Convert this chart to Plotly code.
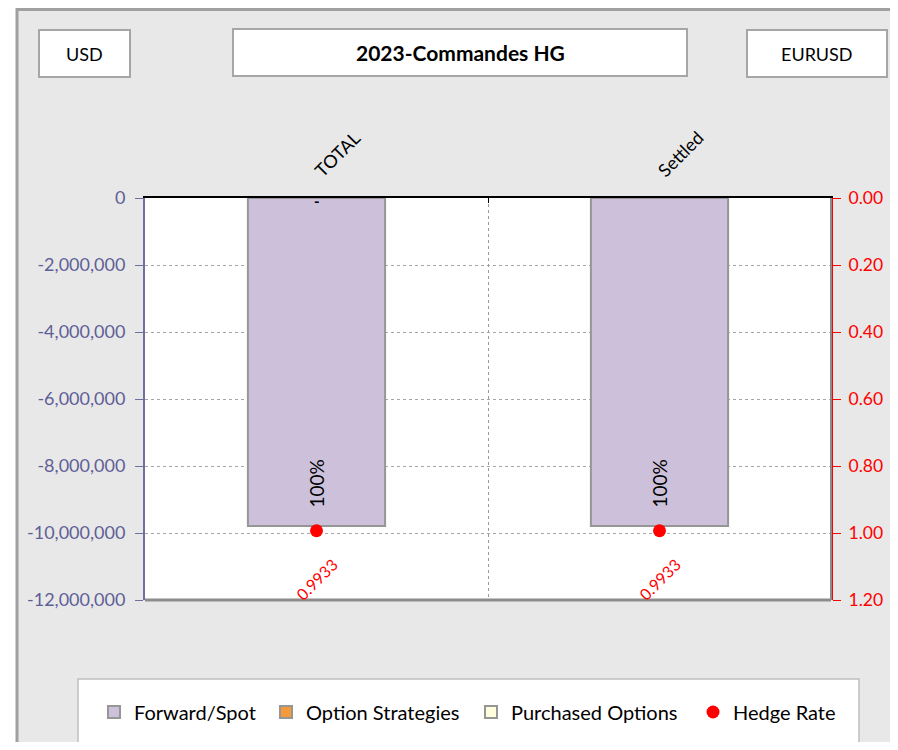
import plotly.graph_objects as go

# chart data
categories = ["TOTAL", "Settled"]
forward_spot = [-9790000, -9790000]
option_strategies = [0, 0]
purchased_options = [0, 0]
hedge_rate = [0.9933, 0.9933]
cover_pct = ["100%", "100%"]

amount_ticks = [0, -2000000, -4000000, -6000000, -8000000, -10000000, -12000000]
amount_labels = ["0", "-2,000,000", "-4,000,000", "-6,000,000", "-8,000,000",
                 "-10,000,000", "-12,000,000"]

currency = "USD"
title = "2023-Commandes HG"
pair = "EURUSD"

# page body keeps its default 8px margin, so the figure is placed at (8, 8)
OFF = 8
W, H = 898 - 2 * OFF, 750 - 2 * OFF
L, R, T, B = 145, 831, 198, 600  # plot area, in page pixels
FONT = "Lato, sans-serif"


def px(x):
    return (x - L) / (R - L)


def py(y):
    return (B - y) / (B - T)


# one legend per entry so the spacing matches the original
legend_x = [123, 295, 500, 722]

fig = go.Figure()

fig.add_trace(go.Bar(
    x=categories, y=forward_spot, name="Forward/Spot", legend="legend",
    marker=dict(color="#ccc0da", line=dict(color="#969696", width=2)),
    width=0.4))
fig.add_trace(go.Bar(
    x=categories, y=option_strategies, name="Option Strategies", legend="legend2",
    marker=dict(color="#f79a3a", line=dict(color="#969696", width=2)),
    width=0.4))
fig.add_trace(go.Bar(
    x=categories, y=purchased_options, name="Purchased Options", legend="legend3",
    marker=dict(color="#fffddc", line=dict(color="#969696", width=2)),
    width=0.4))
fig.add_trace(go.Scatter(
    x=categories, y=hedge_rate, name="Hedge Rate", yaxis="y2", legend="legend4",
    mode="markers", marker=dict(color="red", size=13)))

# coverage labels inside the bars, near their ends
for c, v, t in zip(categories, forward_spot, cover_pct):
    fig.add_annotation(x=c, y=v, yref="y", text=t, showarrow=False, textangle=-90,
                       xanchor="center", yanchor="bottom", yshift=16,
                       font=dict(color="black", size=19, family=FONT))
# rotated hedge rate labels under the points
for c, v in zip(categories, hedge_rate):
    fig.add_annotation(x=c, y=1.14, yref="y2", text=f"{v:.4f}", showarrow=False,
                       textangle=-45, font=dict(color="red", size=16, family=FONT))
# dash label for empty option strategies on TOTAL
fig.add_annotation(x=categories[0], y=0, yref="y", text="<b>-</b>", showarrow=False,
                   yshift=-3, font=dict(color="black", size=15, family=FONT))

shapes = []
# white page strip left of the frame
shapes.append(dict(type="rect", xref="paper", yref="paper",
                   x0=px(0), x1=px(16), y0=py(800), y1=py(0),
                   fillcolor="white", line=dict(width=0), layer="below"))
# outer frame
shapes.append(dict(type="rect", xref="paper", yref="paper",
                   x0=px(17), x1=px(896), y0=py(770), y1=py(9.5),
                   line=dict(color="#a0a0a0", width=3), layer="below"))
# header boxes
boxes = [(39, 130, 30, 77, currency, False), (233, 687, 29, 76, title, True),
         (747, 887, 30, 77, pair, False)]
for x0, x1, y0, y1, txt, bold in boxes:
    shapes.append(dict(type="rect", xref="paper", yref="paper",
                       x0=px(x0), x1=px(x1), y0=py(y1), y1=py(y0),
                       fillcolor="white", line=dict(color="#a6a6a6", width=2)))
    fig.add_annotation(xref="paper", yref="paper", x=px((x0 + x1) / 2), y=py((y0 + y1) / 2),
                       xanchor="center", yanchor="middle",
                       text=f"<b>{txt}</b>" if bold else txt, showarrow=False,
                       font=dict(size=21 if bold else 18, color="black", family=FONT))
# legend box
shapes.append(dict(type="rect", xref="paper", yref="paper",
                   x0=px(78), x1=px(859), y0=py(744), y1=py(679),
                   fillcolor="white", line=dict(color="#bfbfbf", width=1.5)))
# plot border bottom and right
shapes.append(dict(type="line", xref="paper", yref="paper", x0=0, x1=1, y0=0, y1=0,
                   line=dict(color="#8c8c8c", width=3)))
shapes.append(dict(type="line", xref="paper", yref="paper", x0=1, x1=1, y0=0, y1=1,
                   line=dict(color="#8c8c8c", width=2)))

legends = {}
for i, lx in enumerate(legend_x):
    key = "legend" if i == 0 else f"legend{i + 1}"
    legends[key] = dict(orientation="h", x=px(lx - 29), xanchor="left",
                        y=py(712), yanchor="middle", bgcolor="rgba(0,0,0,0)",
                        font=dict(size=20, family=FONT, color="black"), itemwidth=30)

fig.update_layout(
    width=W, height=H,
    margin=dict(l=L - OFF, r=W - (R - OFF), t=T - OFF, b=H - (B - OFF), autoexpand=False),
    paper_bgcolor="#e8e8e8", plot_bgcolor="white",
    font=dict(family=FONT, size=16, color="black"),
    barmode="relative",
    showlegend=True,
    xaxis=dict(side="top", type="category", tickangle=-45, showline=True,
               linecolor="black", linewidth=2, tickson="boundaries",
               showgrid=True, gridcolor="#9a9a9a", griddash="dot", gridwidth=1,
               ticks="inside", ticklen=5, tickcolor="black", ticklabelstandoff=8,
               tickfont=dict(size=18, color="black")),
    yaxis=dict(range=[-12000000, 0], tickvals=amount_ticks, ticktext=amount_labels,
               showline=True, linecolor="#7070a0", linewidth=2,
               ticks="outside", ticklen=8, tickcolor="#7070a0", ticklabelstandoff=6,
               tickfont=dict(size=18, color="#5f5f97"),
               showgrid=True, gridcolor="#a6a6a6", griddash="dot", gridwidth=1,
               zeroline=False),
    yaxis2=dict(overlaying="y", side="right", range=[1.2, 0], dtick=0.2, tickformat=".2f",
                showline=True, linecolor="red", linewidth=2,
                ticks="outside", ticklen=8, tickcolor="red", ticklabelstandoff=4,
                tickfont=dict(size=17.5, color="red"), showgrid=False, zeroline=False),
    shapes=shapes,
    **legends,
)

fig.write_html("out.html")
